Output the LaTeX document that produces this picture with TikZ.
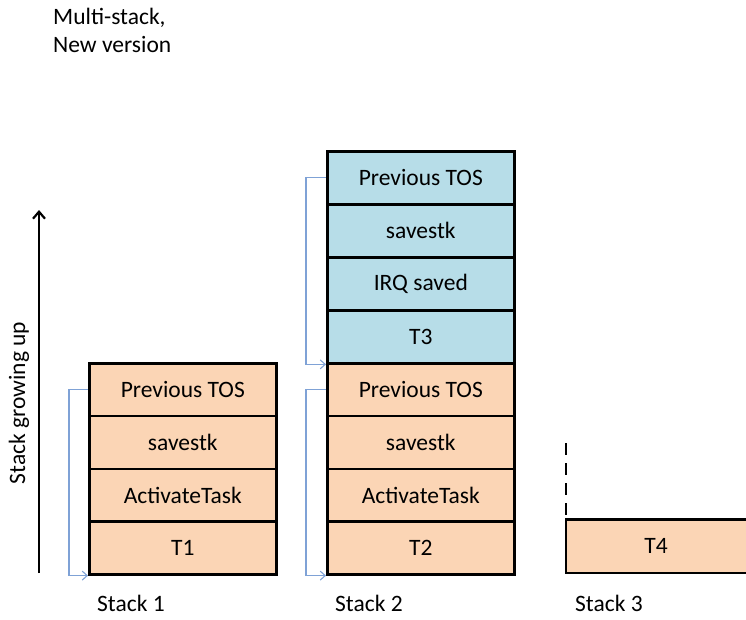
\documentclass[tikz,border=0pt]{standalone}
\usepackage{fontspec}
\setmainfont{Carlito}
\usetikzlibrary{arrows.meta}
\definecolor{orangefill}{HTML}{FBD5B5}
\definecolor{bluefill}{HTML}{B7DDE8}
\definecolor{linkblue}{HTML}{7FA2D6}
\tikzset{
  txt/.style={font=\fontsize{23.5}{28}\selectfont},
  cell/.style={txt, draw=black, line width=2.6pt, minimum width=187pt, minimum height=52.75pt, inner sep=0pt, anchor=north west},
  ocell/.style={cell, fill=orangefill},
  bcell/.style={cell, fill=bluefill},
  link/.style={draw=linkblue, line width=1.1pt, -{Straight Barb[length=5pt,width=9pt]}},
  lbl/.style={txt, anchor=base west, inner sep=0pt},
}
\begin{document}
\begin{tikzpicture}[x=1pt,y=-1pt]
\useasboundingbox (0,0) rectangle (746,619);
% title
\node[lbl, align=left] (title) at (53,52) {Multi-stack,\\New version};
% growth arrow
\coordinate (gb) at (39,573);
\coordinate (gt) at (39,210);
\draw[line width=2.2pt, -{Straight Barb[length=7pt,width=12pt]}] (gb) -- (gt);
\node[txt, rotate=90, inner sep=0pt] (grow) at (19,403) {Stack growing up};
% stack 1
\node[ocell] (s1a) at (88,362) {Previous TOS};
\node[ocell] (s1b) at (88,414.75) {savestk};
\node[ocell] (s1c) at (88,467.5) {ActivateTask};
\node[ocell] (s1d) at (88,520.25) {T1};
% stack 2
\node[bcell] (s2a) at (326,150) {Previous TOS};
\node[bcell] (s2b) at (326,203) {savestk};
\node[bcell] (s2c) at (326,256) {IRQ saved};
\node[bcell] (s2d) at (326,309) {T3};
\node[ocell] (s2e) at (326,362) {Previous TOS};
\node[ocell] (s2f) at (326,414.75) {savestk};
\node[ocell] (s2g) at (326,467.5) {ActivateTask};
\node[ocell] (s2h) at (326,520.25) {T2};
% stack 3
\fill[orangefill] (566,519.5) rectangle (746,573);
\coordinate (s3tl) at (566,519.5);
\coordinate (s3bl) at (566,573);
\coordinate (s3br) at (748,573);
\coordinate (s3tr) at (748,519.5);
\coordinate (s3top) at (566,443);
\draw[line width=2.6pt] (s3tr) -- (s3tl) -- (s3bl) -- (s3br);
\draw[line width=2.6pt, dash pattern=on 12pt off 8pt] (s3top) -- (s3tl);
\node[txt] (t4) at (656,546) {T4};
% links
\draw[link] (s1a.west) -- ++(-19,0) |- (s1d.south west);
\draw[link] (s2a.west) -- ++(-20,0) |- (s2d.south west);
\draw[link] (s2e.west) -- ++(-20,0) |- (s2h.south west);
% labels
\node[lbl] (l1) at (97,611) {Stack 1};
\node[lbl] (l2) at (335,611) {Stack 2};
\node[lbl] (l3) at (575,611) {Stack 3};
\end{tikzpicture}
\end{document}
